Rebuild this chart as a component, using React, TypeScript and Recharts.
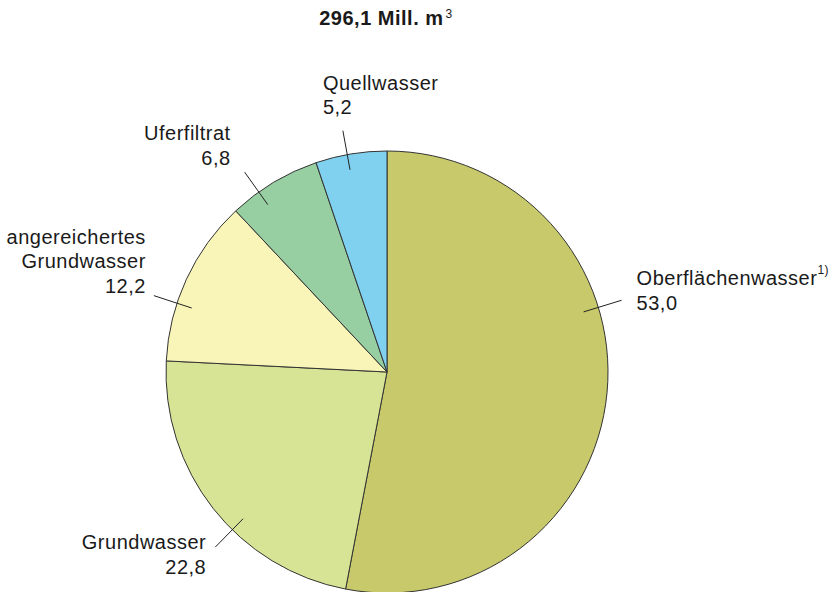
import React from 'react';
import { PieChart, Pie, Cell } from 'recharts';

const sources = ['Oberflächenwasser', 'Grundwasser', 'angereichertes\nGrundwasser', 'Uferfiltrat', 'Quellwasser'];
const shares = [53.0, 22.8, 12.2, 6.8, 5.2];
const footnotes = ['1)', '', '', '', ''];
const colors = ['#c8c96a', '#d7e496', '#f9f4b7', '#98cfa2', '#7fd1ef'];
const totalLabel = '296,1 Mill. m';

const data = sources.map((name, i) => ({ name, value: shares[i], note: footnotes[i] }));

const RAD = Math.PI / 180;
const FONT = '"Liberation Sans", Arial, Helvetica, sans-serif';

// leader line: angle nudge (deg), then text anchor and offset of first line from line end
const labelLayout = [
  { nudge: 22.4, anchor: 'start', dx: 15, dy: -22 },
  { nudge: 7.4, anchor: 'end', dx: -9, dy: -5 },
  { nudge: 6.7, anchor: 'end', dx: -8, dy: -59 },
  { nudge: 4.5, anchor: 'end', dx: -14, dy: -39 },
  { nudge: 1, anchor: 'start', dx: -20, dy: -48 },
];

const fmt = (v: number) => v.toFixed(1).replace('.', ',');

const renderLabel = (props: any) => {
  const { cx, cy, midAngle, outerRadius, index } = props;
  const entry = data[index];
  const lay = labelLayout[index];
  const a = (midAngle + lay.nudge) * RAD;
  const r1 = outerRadius * 0.93;
  const r2 = outerRadius * 1.11;
  const x1 = cx + r1 * Math.cos(-a);
  const y1 = cy + r1 * Math.sin(-a);
  const x2 = cx + r2 * Math.cos(-a);
  const y2 = cy + r2 * Math.sin(-a);
  const lines = entry.name.split('\n');
  const tx = x2 + lay.dx;
  const ty = y2 + lay.dy;
  return (
    <g>
      <line x1={x1} y1={y1} x2={x2} y2={y2} stroke="#222" strokeWidth={1} />
      {lines.map((ln, i) => (
        <text
          key={i}
          x={tx}
          y={ty + i * 24.5}
          textAnchor={lay.anchor}
          dominantBaseline="central"
          fill="#1a1a1a"
          style={{ fontFamily: FONT, fontSize: 20, letterSpacing: 0.5 }}
        >
          {ln}
          {i === 0 && entry.note ? (
            <tspan fontSize={12} dy={-8}>{entry.note}</tspan>
          ) : null}
        </text>
      ))}
      <text
        x={tx}
        y={ty + lines.length * 24.5}
        textAnchor={lay.anchor}
        dominantBaseline="central"
        fill="#1a1a1a"
        style={{ fontFamily: FONT, fontSize: 20, letterSpacing: 0.5 }}
      >
        {fmt(entry.value)}
      </text>
    </g>
  );
};

export default function App() {
  return (
    <div style={{ position: 'absolute', left: 0, top: 0, width: 835, height: 592, background: '#fff', fontFamily: FONT }}>
      <div
        style={{
          position: 'absolute',
          left: 0,
          top: 6,
          width: 772,
          textAlign: 'center',
          fontSize: 20,
          fontWeight: 'bold',
          letterSpacing: 0.5,
          color: '#1a1a1a',
          lineHeight: '24px',
        }}
      >
        {totalLabel}
        <sup style={{ fontSize: 12, fontWeight: 'normal', verticalAlign: 'top', position: 'relative', top: -4, marginLeft: 2 }}>3</sup>
      </div>
      <PieChart width={835} height={592} margin={{ top: 0, right: 0, bottom: 0, left: 0 }}>
        <Pie
          data={data}
          dataKey="value"
          nameKey="name"
          cx={387}
          cy={372}
          outerRadius={221}
          startAngle={90}
          endAngle={-270}
          stroke="#333"
          strokeWidth={1}
          label={renderLabel}
          labelLine={false}
          isAnimationActive={false}
        >
          {data.map((d, i) => (
            <Cell key={d.name} fill={colors[i]} />
          ))}
        </Pie>
      </PieChart>
    </div>
  );
}
